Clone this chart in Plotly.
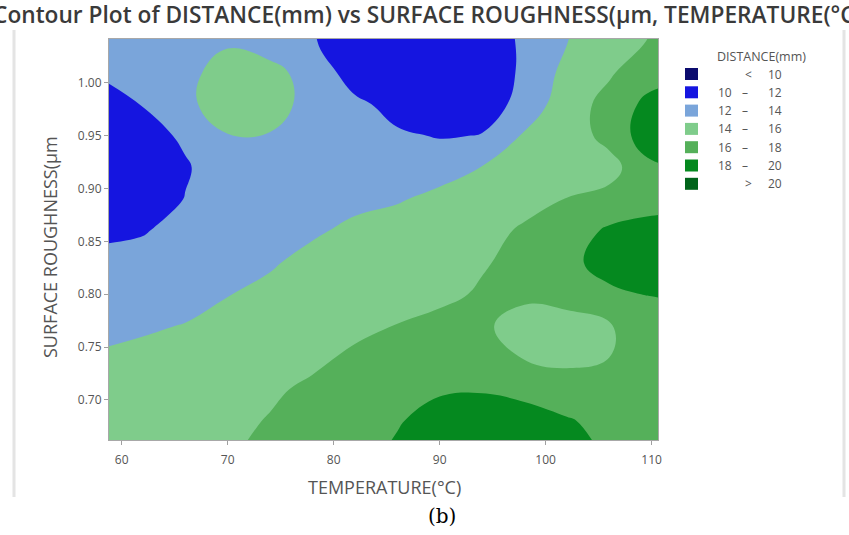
import plotly.graph_objects as go

# ---------------- data ----------------
temperature = [58, 62, 66, 70, 74, 78, 82, 86, 90, 94, 98, 102, 106, 110, 114]
roughness = [0.65, 0.68, 0.71, 0.74, 0.77, 0.80, 0.83, 0.86, 0.89, 0.92, 0.95, 0.98, 1.01, 1.04, 1.07]

# DISTANCE(mm), one row per roughness value (bottom -> top)
d_065 = [14.8, 15.1, 15.45, 15.85, 16.4, 17.0, 17.6, 18.2, 18.8, 19.1, 19.0, 18.7, 17.8, 17.5, 17.4]
d_068 = [14.6, 14.85, 15.2, 15.6, 16.1, 16.7, 17.3, 17.9, 18.5, 18.7, 18.6, 18.15, 17.5, 17.3, 17.3]
d_071 = [14.4, 14.65, 14.95, 15.3, 15.75, 16.3, 16.9, 17.4, 17.85, 17.9, 17.6, 17.0, 16.7, 16.9, 17.1]
d_074 = [14.1, 14.3, 14.6, 14.9, 15.2, 15.65, 16.3, 16.8, 17.1, 16.8, 15.9, 15.5, 16.0, 16.7, 17.0]
d_077 = [13.75, 13.85, 14.05, 14.5, 14.9, 15.25, 15.6, 16.05, 16.5, 16.2, 15.5, 15.4, 15.9, 16.6, 16.9]
d_080 = [12.9, 13.2, 13.55, 13.95, 14.45, 14.8, 15.1, 15.35, 15.6, 16.2, 16.25, 16.6, 17.7, 18.1, 18.4]
d_083 = [12.4, 12.5, 12.8, 13.2, 13.8, 14.55, 15.0, 15.2, 15.4, 15.85, 16.5, 17.6, 18.6, 19.2, 19.4]
d_086 = [11.7, 11.9, 12.5, 12.9, 13.3, 13.75, 14.4, 14.8, 15.1, 15.5, 16.2, 17.0, 18.3, 18.9, 19.1]
d_089 = [10.8, 11.1, 12.05, 12.7, 13.0, 13.3, 13.55, 13.85, 14.45, 15.0, 15.5, 16.05, 16.6, 17.0, 17.3]
d_092 = [10.6, 11.0, 11.85, 12.85, 13.2, 13.4, 13.3, 13.1, 13.3, 14.05, 14.6, 15.0, 15.3, 17.6, 17.9]
d_095 = [10.8, 11.4, 12.25, 13.95, 13.92, 13.3, 12.8, 12.3, 11.87, 12.06, 14.25, 15.0, 16.6, 19.3, 19.6]
d_098 = [11.2, 12.07, 13.7, 14.7, 14.6, 13.5, 12.5, 11.2, 11.0, 11.4, 12.4, 15.4, 16.4, 18.8, 19.5]
d_101 = [12.2, 12.6, 13.6, 14.6, 14.3, 13.6, 10.8, 10.4, 10.4, 10.9, 12.3, 14.6, 15.85, 16.85, 17.3]
d_104 = [12.7, 12.9, 13.3, 13.8, 13.5, 12.1, 11.2, 10.9, 10.9, 11.3, 12.2, 13.95, 14.95, 16.15, 16.8]
d_107 = [13.0, 13.1, 13.3, 13.5, 13.2, 12.1, 11.4, 11.2, 11.2, 11.5, 12.3, 13.8, 14.7, 15.8, 16.5]

distance = [d_065, d_068, d_071, d_074, d_077, d_080, d_083, d_086, d_089,
            d_092, d_095, d_098, d_101, d_104, d_107]

levels_start, levels_end, levels_step = 10, 20, 2
band_colors = ["#0b0b6e", "#1515e0", "#7aa5da", "#7fcc8b", "#55b05a", "#05891f", "#00641a"]
legend_left = ["", "10", "12", "14", "16", "18", ""]
legend_mid = ["<", "–", "–", "–", "–", "–", ">"]
legend_right = ["10", "12", "14", "16", "18", "20", "20"]

x_ticks = [60, 70, 80, 90, 100, 110]
y_ticks = [0.70, 0.75, 0.80, 0.85, 0.90, 0.95, 1.00]
y_ticktext = ["0.70", "0.75", "0.80", "0.85", "0.90", "0.95", "1.00"]

# ---------------- layout geometry (pixels) ----------------
W, H = 849, 535
L, R, T, B = 109, 658, 39, 440


def px(xp):
    return (xp - L) / (R - L)


def py(yp):
    return (B - yp) / (B - T)


n = len(band_colors) - 1
colorscale = [[i / n, c] for i, c in enumerate(band_colors)]

fig = go.Figure()
fig.add_trace(go.Contour(
    x=temperature, y=roughness, z=distance,
    autocontour=False,
    contours=dict(start=levels_start, end=levels_end, size=levels_step,
                  coloring="fill", showlines=False),
    colorscale=colorscale,
    line=dict(width=0, smoothing=1.2),
    showscale=False,
    hoverinfo="skip",
))

FONT = "Open Sans"
annotations = []
shapes = []

# title (cropped on both sides as in the picture)
annotations.append(dict(
    text="Contour Plot of DISTANCE(mm) vs SURFACE ROUGHNESS(µm, TEMPERATURE(°C)",
    xref="paper", yref="paper", x=px(-9), y=py(15), xanchor="left", yanchor="middle",
    showarrow=False, font=dict(family=FONT, size=22.7, color="#3a3a3a", weight=600)))

# axis titles
annotations.append(dict(text="TEMPERATURE(°C)", xref="paper", yref="paper",
                        x=px(384), y=py(487), xanchor="center", yanchor="middle",
                        showarrow=False, font=dict(family=FONT, size=18, color="#555555")))
annotations.append(dict(text="SURFACE ROUGHNESS(µm", xref="paper", yref="paper",
                        x=px(50), y=py(247), xanchor="center", yanchor="middle", textangle=-90,
                        showarrow=False, font=dict(family=FONT, size=18, color="#555555")))

# caption
annotations.append(dict(text="(b)", xref="paper", yref="paper",
                        x=px(442), y=py(516), xanchor="center", yanchor="middle",
                        showarrow=False, font=dict(family="DejaVu Serif", size=20, color="#000000")))

# legend
annotations.append(dict(text="DISTANCE(mm)", xref="paper", yref="paper",
                        x=px(761), y=py(57), xanchor="center", yanchor="middle",
                        showarrow=False, font=dict(family=FONT, size=12.5, color="#555555")))
for i, c in enumerate(band_colors):
    cy = 74 + 18.3 * i
    shapes.append(dict(type="rect", xref="paper", yref="paper",
                       x0=px(685), x1=px(698), y0=py(cy - 6), y1=py(cy + 6),
                       fillcolor=c, line=dict(width=0)))
    lf = dict(family=FONT, size=12, color="#555555")
    if legend_left[i]:
        annotations.append(dict(text=legend_left[i], xref="paper", yref="paper",
                                x=px(734), y=py(cy), xanchor="right", yanchor="middle",
                                showarrow=False, font=lf))
    mid_x = 745 if legend_left[i] else 748
    annotations.append(dict(text=legend_mid[i], xref="paper", yref="paper",
                            x=px(mid_x), y=py(cy), xanchor="center", yanchor="middle",
                            showarrow=False, font=lf))
    annotations.append(dict(text=legend_right[i], xref="paper", yref="paper",
                            x=px(784), y=py(cy), xanchor="right", yanchor="middle",
                            showarrow=False, font=lf))

# window frame lines
for xf in (14, 844):
    shapes.append(dict(type="line", xref="paper", yref="paper",
                       x0=px(xf), x1=px(xf), y0=py(30), y1=py(497),
                       line=dict(color="#e4e4e4", width=3)))

axis_common = dict(showgrid=False, zeroline=False, showline=True, mirror=True,
                   linecolor="#a8a8a8", linewidth=1, ticks="outside", ticklen=4,
                   tickcolor="#a0a0a0", tickfont=dict(family=FONT, size=12, color="#555555"))

fig.update_layout(
    width=W, height=H,
    margin=dict(l=L, r=W - R, t=T, b=H - B, pad=0),
    paper_bgcolor="white", plot_bgcolor="white",
    showlegend=False,
    xaxis=dict(range=[58.8, 110.6], tickvals=x_ticks, ticklabelstandoff=5, **axis_common),
    yaxis=dict(range=[0.662, 1.0416], tickvals=y_ticks, ticktext=y_ticktext, **axis_common),
    annotations=annotations,
    shapes=shapes,
)

fig.write_html("out.html", config={"displayModeBar": False},
               post_script="document.body.style.margin='0px';")
